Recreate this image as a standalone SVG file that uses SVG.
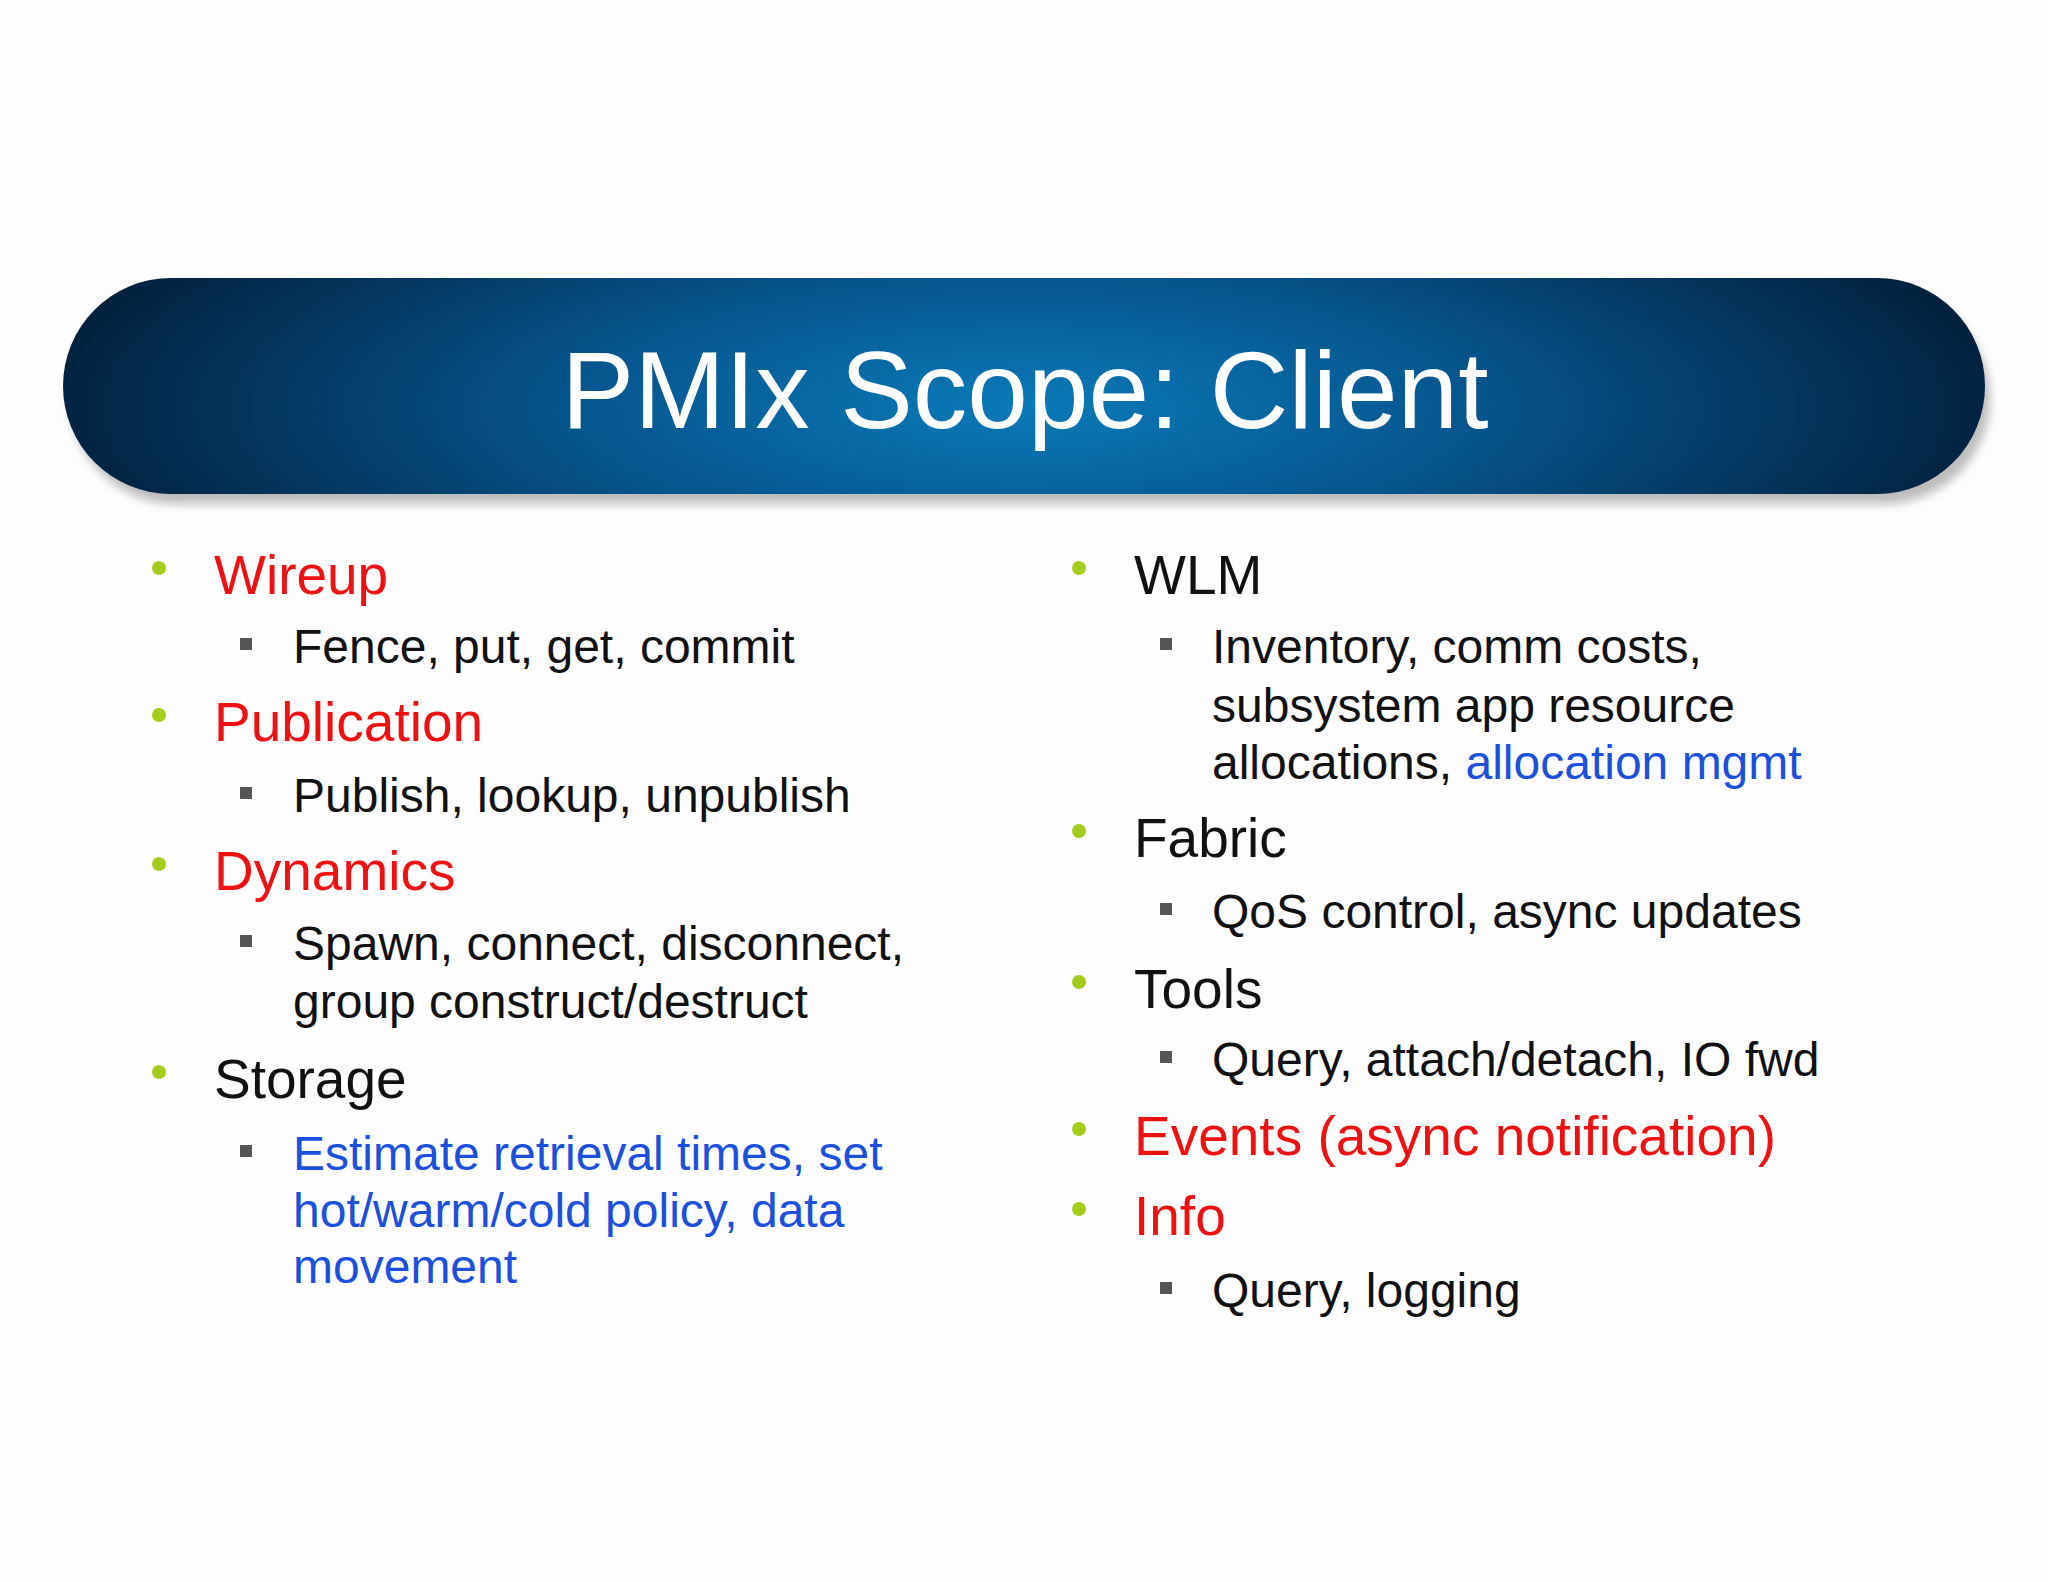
<svg xmlns="http://www.w3.org/2000/svg" width="2048" height="1582" viewBox="0 0 2048 1582">
<defs>
<radialGradient id="bg" cx="0.5" cy="0.6" r="0.6" gradientTransform="translate(0.5 0.6) scale(1 2.6) translate(-0.5 -0.6)">
<stop offset="0" stop-color="#0a7ab8"/>
<stop offset="0.4" stop-color="#06548c"/>
<stop offset="0.8" stop-color="#032747"/>
<stop offset="1" stop-color="#011224"/>
</radialGradient>
<filter id="sh" x="-5%" y="-20%" width="110%" height="150%"><feGaussianBlur stdDeviation="5"/></filter>
</defs>
<style>
text{font-family:"Liberation Sans",Arial,sans-serif}
.h{font-size:55px;fill:#111}
.s{font-size:48px;fill:#111}
.r{fill:#ee1111}
.b{fill:#1a50dc}
.dot{fill:#a4cc1c}
.sq{fill:#555}
</style>
<rect width="2048" height="1582" fill="#fdfdfd"/>
<g id="banner">
<rect x="70" y="292" width="1920" height="212" rx="106" fill="#888" opacity="0.55" filter="url(#sh)"/>
<rect x="63" y="278" width="1922" height="216" rx="108" fill="url(#bg)"/>
<text x="1025" y="428" text-anchor="middle" font-size="109" fill="#ffffff">PMIx Scope: Client</text>
</g>
<g id="left">
<circle class="dot" cx="159" cy="568" r="7"/><text class="h r" x="214" y="594">Wireup</text>
<rect class="sq" x="240" y="638" width="12" height="12"/><text class="s" x="293" y="663">Fence, put, get, commit</text>
<circle class="dot" cx="159" cy="715" r="7"/><text class="h r" x="214" y="741">Publication</text>
<rect class="sq" x="240" y="787" width="12" height="12"/><text class="s" x="293" y="812">Publish, lookup, unpublish</text>
<circle class="dot" cx="159" cy="864" r="7"/><text class="h r" x="214" y="890">Dynamics</text>
<rect class="sq" x="240" y="935" width="12" height="12"/><text class="s" x="293" y="960">Spawn, connect, disconnect,</text>
<text class="s" x="293" y="1018">group construct/destruct</text>
<circle class="dot" cx="159" cy="1072" r="7"/><text class="h" x="214" y="1098">Storage</text>
<rect class="sq" x="240" y="1145" width="12" height="12"/><text class="s b" x="293" y="1170">Estimate retrieval times, set</text>
<text class="s b" x="293" y="1227">hot/warm/cold policy, data</text>
<text class="s b" x="293" y="1283">movement</text>
</g>
<g id="right">
<circle class="dot" cx="1079" cy="568" r="7"/><text class="h" x="1134" y="594">WLM</text>
<rect class="sq" x="1160" y="638" width="12" height="12"/><text class="s" x="1212" y="663">Inventory, comm costs,</text>
<text class="s" x="1212" y="722">subsystem app resource</text>
<text class="s" x="1212" y="779">allocations, <tspan class="b">allocation mgmt</tspan></text>
<circle class="dot" cx="1079" cy="831" r="7"/><text class="h" x="1134" y="857">Fabric</text>
<rect class="sq" x="1160" y="903" width="12" height="12"/><text class="s" x="1212" y="928">QoS control, async updates</text>
<circle class="dot" cx="1079" cy="982" r="7"/><text class="h" x="1134" y="1008">Tools</text>
<rect class="sq" x="1160" y="1051" width="12" height="12"/><text class="s" x="1212" y="1076">Query, attach/detach, IO fwd</text>
<circle class="dot" cx="1079" cy="1129" r="7"/><text class="h r" x="1134" y="1155">Events (async notification)</text>
<circle class="dot" cx="1079" cy="1209" r="7"/><text class="h r" x="1134" y="1235">Info</text>
<rect class="sq" x="1160" y="1282" width="12" height="12"/><text class="s" x="1212" y="1307">Query, logging</text>
</g>
</svg>
